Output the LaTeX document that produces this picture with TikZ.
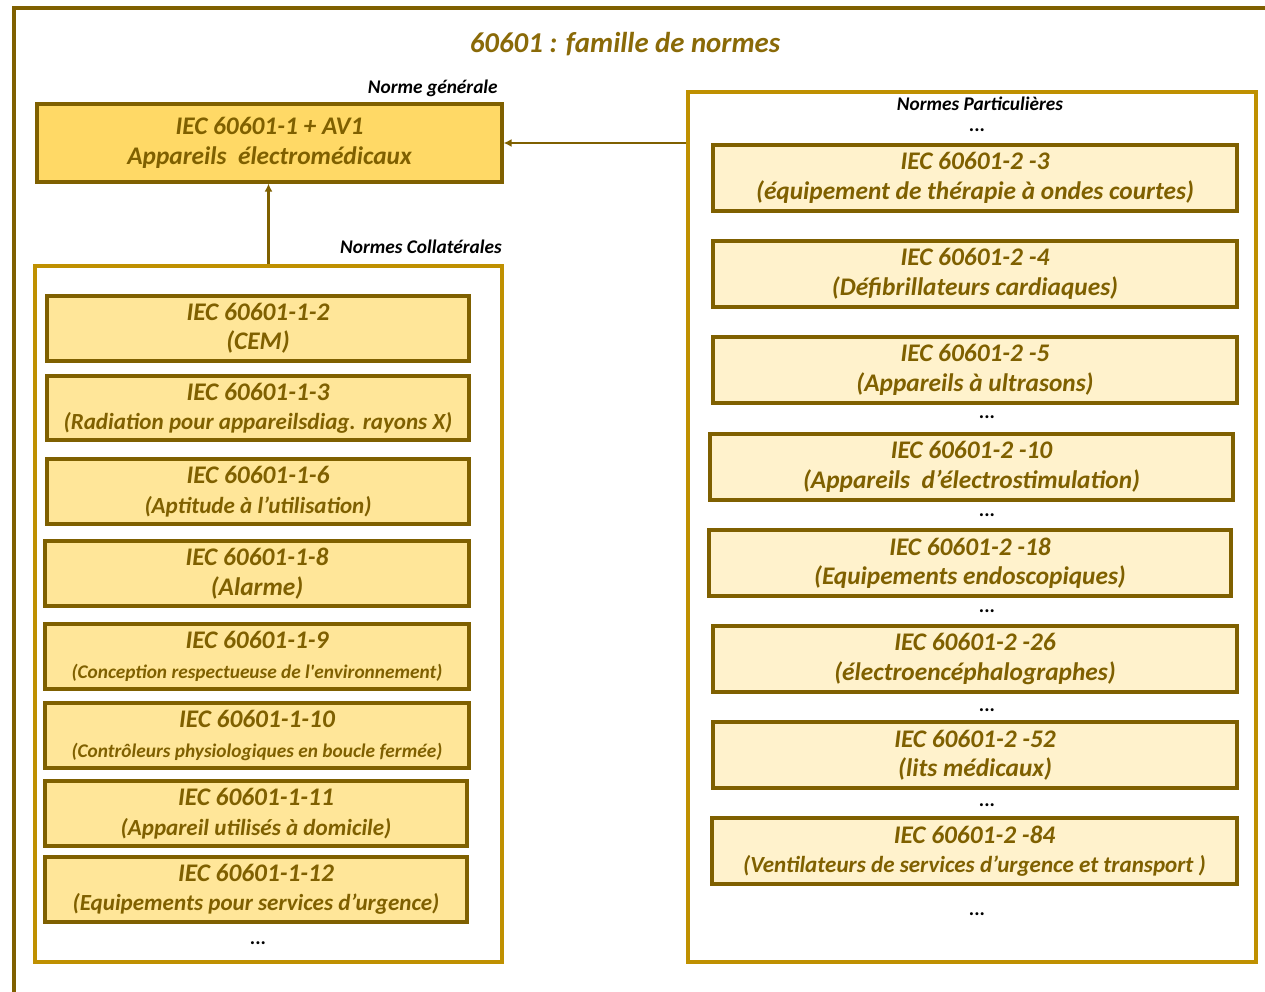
\documentclass[tikz,border=0pt]{standalone}
\usepackage{fontspec}
\setmainfont{Carlito}[Ligatures=TeXOff]
\usetikzlibrary{arrows.meta}
\definecolor{olive}{HTML}{7F6000}
\definecolor{goldline}{HTML}{BF9000}
\definecolor{goldmain}{HTML}{FFD966}
\definecolor{goldlight}{HTML}{FFE699}
\definecolor{cream}{HTML}{FFF2CC}
\definecolor{titlecol}{HTML}{8A6A08}

% a box given by its corners (in px units), style, name and text
\newcommand\pxbox[7]{%
  \pgfmathsetmacro\bw{(#4-#2)*0.75}%
  \pgfmathsetmacro\bh{(#5-#3)*0.75}%
  \node[#6, minimum width=\bw pt, minimum height=\bh pt] (#1) at ({(#2+#4)/2},{(#3+#5)/2}) {#7};}

\tikzset{
  basebox/.style={draw=olive, line width=2.4pt, inner sep=0pt, align=center,
    text=olive, font=\fontsize{19}{22}\selectfont\bfseries\itshape,
    execute at begin node={\rule{0pt}{19.5pt}}},
  genbox/.style={basebox, fill=goldmain},
  collbox/.style={basebox, fill=goldlight},
  partbox/.style={basebox, fill=cream},
  container/.style={draw=goldline, line width=3pt, fill=white, inner sep=0pt},
  grouplabel/.style={font=\fontsize{14.5}{16}\selectfont\bfseries\itshape, text=black, inner sep=0pt},
  dots/.style={font=\fontsize{15}{16}\selectfont\bfseries, text=black, inner sep=0pt,
    text height=3pt, text depth=0pt, anchor=base},
  arr/.style={draw=olive, line width=2.2pt, -{Latex[length=6pt,width=6pt]}},
}
\newcommand\lsmall{\fontsize{14.5}{22}\selectfont}
\newcommand\lmid{\fontsize{17.3}{22}\selectfont}

\begin{document}
\begin{tikzpicture}[x=0.75pt, y=-0.75pt]
\useasboundingbox (0,0) rectangle (1265,992);
\fill[white] (0,0) rectangle (1265,992);

% outer frame
\draw[olive, line width=3pt] (14,992) -- (14,8) -- (1265,8);

\node[font=\fontsize{21.6}{24}\selectfont\bfseries\itshape, text=titlecol, inner sep=0pt] (title) at (625,44) {60601 : famille de normes};

% containers
\pxbox{coll}{35}{266}{502}{962}{container}{}
\pxbox{part}{688}{92}{1256}{962}{container}{}

% general standard
\pxbox{gen}{37}{104}{502}{182}{genbox}{IEC 60601-1 + AV1\\Appareils \ électromédicaux}
\node[grouplabel, anchor=base east] (lgen) at (498,93) {Norme générale};
\node[grouplabel, anchor=base east] (lcoll) at (502,253) {Normes Collatérales};
\node[grouplabel, anchor=base] (lpart) at (980,110) {Normes Particulières};

% collateral standards
\pxbox{c2}{47}{296}{469}{361}{collbox}{IEC 60601-1-2\\(CEM)}
\pxbox{c3}{47}{376}{469}{440}{collbox}{IEC 60601-1-3\\{\lmid(Radiation pour appareilsdiag. rayons X)}}
\pxbox{c6}{47}{459}{469}{524}{collbox}{IEC 60601-1-6\\{\lmid(Aptitude à l’utilisation)}}
\pxbox{c8}{45}{541}{469}{606}{collbox}{IEC 60601-1-8\\(Alarme)}
\pxbox{c9}{45}{624}{469}{689}{collbox}{IEC 60601-1-9\\{\lsmall(Conception respectueuse de l'environnement)}}
\pxbox{c10}{45}{703}{469}{768}{collbox}{IEC 60601-1-10\\{\lsmall(Contrôleurs physiologiques en boucle fermée)}}
\pxbox{c11}{45}{781}{467}{846}{collbox}{IEC 60601-1-11\\{\lmid(Appareil utilisés à domicile)}}
\pxbox{c12}{45}{857}{467}{922}{collbox}{IEC 60601-1-12\\{\lmid(Equipements pour services d’urgence)}}
\node[dots] (dc) at (258,944) {...};

% particular standards
\node[dots] (dp0) at (977,131) {...};
\pxbox{p3}{713}{145}{1237}{211}{partbox}{IEC 60601-2 -3\\(équipement de thérapie à ondes courtes)}
\pxbox{p4}{713}{241}{1237}{307}{partbox}{IEC 60601-2 -4\\(Défibrillateurs cardiaques)}
\pxbox{p5}{713}{337}{1237}{403}{partbox}{IEC 60601-2 -5\\(Appareils à ultrasons)}
\node[dots] (dp1) at (987,418) {...};
\pxbox{p10}{710}{434}{1233}{500}{partbox}{IEC 60601-2 -10\\(Appareils \ d’électrostimulation)}
\node[dots] (dp2) at (987,516) {...};
\pxbox{p18}{709}{530}{1231}{596}{partbox}{IEC 60601-2 -18\\(Equipements endoscopiques)}
\node[dots] (dp3) at (987,612) {...};
\pxbox{p26}{713}{626}{1237}{692}{partbox}{IEC 60601-2 -26\\(électroencéphalographes)}
\node[dots] (dp4) at (987,711) {...};
\pxbox{p52}{713}{722}{1237}{788}{partbox}{IEC 60601-2 -52\\(lits médicaux)}
\node[dots] (dp5) at (987,806) {...};
\pxbox{p84}{712}{818}{1237}{884}{partbox}{IEC 60601-2 -84\\{\lmid(Ventilateurs de services d’urgence et transport )}}
\node[dots] (dp6) at (977,915) {...};

% links to the general standard
\draw[arr] (coll.north) -- (coll.north |- gen.south);
\draw[arr] (part.west |- gen.east) -- (gen.east);
\end{tikzpicture}
\end{document}
